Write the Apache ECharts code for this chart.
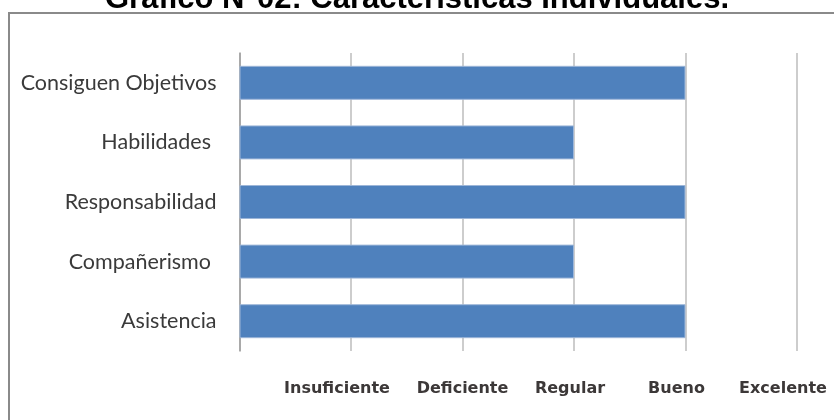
<!DOCTYPE html>
<html>
<head>
<meta charset="utf-8">
<style>
  html, body { margin: 0; padding: 0; background: #ffffff; }
  #chart { width: 834px; height: 420px; }
</style>
<script src="https://cdn.jsdelivr.net/npm/echarts@6/dist/echarts.min.js"></script>
</head>
<body>
<div id="chart"></div>
<script>
// Rated characteristics, top to bottom
const categories = ['Consiguen Objetivos', 'Habilidades ', 'Responsabilidad', 'Compañerismo ', 'Asistencia'];
// Rating on the 0–5 scale (1 = Insuficiente … 5 = Excelente)
const ratings = [4, 3, 4, 3, 4];
// Text shown under each scale tick
const scaleLabels = ['', 'Insuficiente', 'Deficiente', 'Regular', 'Bueno', 'Excelente'];
const chartTitle = 'Gráfico N°02: Características Individuales.';

// Each scale label sits a little left of its tick; right padding on a
// centred token moves it left by half the padding.
const labelNudge = [0, 14, 0, 4, 9, 14];
const scaleRich = {};
scaleLabels.forEach(function (_, i) {
  scaleRich['s' + i] = {
    fontFamily: 'DejaVu Sans',
    fontWeight: 'bold',
    fontSize: 16,
    color: '#3c3838',
    padding: [0, labelNudge[i] * 2, 0, 0]
  };
});

const chart = echarts.init(document.getElementById('chart'), null, { renderer: 'canvas' });

chart.setOption({
  animation: false,
  backgroundColor: '#ffffff',
  title: {
    text: chartTitle,
    left: 'center',
    top: -16,
    padding: 0,
    textStyle: {
      fontFamily: 'Liberation Sans',
      fontWeight: 'bold',
      fontSize: 31,
      color: '#000000'
    }
  },
  graphic: [{
    type: 'rect',
    silent: true,
    z: -1,
    shape: { x: 9, y: 13, width: 900, height: 500 },
    style: { fill: null, stroke: '#8a8a8a', lineWidth: 2 }
  }],
  grid: {
    left: 239.5,
    right: 37,
    top: 53,
    bottom: 69,
    containLabel: false
  },
  xAxis: {
    type: 'value',
    min: 0,
    max: 5,
    interval: 1,
    axisLine: { show: false },
    axisTick: { show: false },
    splitLine: { show: true, lineStyle: { color: '#bdbdbd', width: 1.5 } },
    axisLabel: {
      margin: 30,
      formatter: function (v) {
        const i = Math.round(v);
        return scaleLabels[i] ? '{s' + i + '|' + scaleLabels[i] + '}' : '';
      },
      rich: scaleRich
    }
  },
  yAxis: {
    type: 'category',
    data: categories,
    inverse: true,
    axisLine: { show: true, lineStyle: { color: '#9c9c9c', width: 1.5 } },
    axisTick: { show: false },
    splitLine: { show: false },
    axisLabel: {
      margin: 23,
      fontFamily: 'Lato',
      fontSize: 21.5,
      color: '#3a3a3a'
    }
  },
  series: [{
    type: 'bar',
    data: ratings,
    barWidth: '57%',
    itemStyle: {
      color: '#4f81bd',
      borderColor: '#9db6d8',
      borderWidth: 1
    }
  }]
});
</script>
</body>
</html>
